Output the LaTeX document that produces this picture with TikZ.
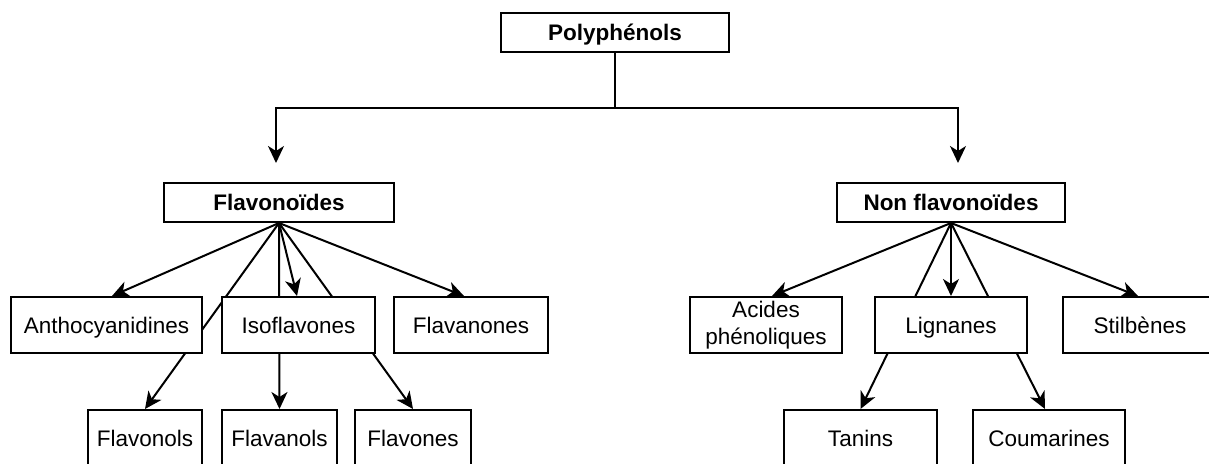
\documentclass[tikz,border=0pt]{standalone}
\usepackage{fontspec}
\setmainfont{Liberation Sans}
\usetikzlibrary{arrows.meta,backgrounds}
\begin{document}
\begin{tikzpicture}[x=1pt,y=-1pt,
  box/.style={draw=black,line width=2pt,fill=white,inner sep=0pt,
    minimum height=56pt,align=center,font=\fontsize{22.5}{27}\selectfont},
  onel/.style={box,text height=19pt,text depth=3pt},
  topbox/.style={onel,minimum height=39pt,font=\fontsize{22.5}{27}\selectfont\bfseries},
  conn/.style={draw=black,line width=2pt},
  arr/.style={conn,-{Stealth[length=17pt,width=16pt,inset=5pt]}}]
\useasboundingbox (0,0) rectangle (1209,463);
\clip (0,0) rectangle (1209,463);
% nodes
\node[topbox,minimum width=228pt] (poly) at (615,32.5) {Polyphénols};
\node[topbox,minimum width=230pt] (flav) at (279,202.5) {Flavonoïdes};
\node[topbox,minimum width=228pt] (nonf) at (951,202.5) {Non flavonoïdes};
\node[onel,minimum width=191pt] (antho) at (106.5,325) {Anthocyanidines};
\node[onel,minimum width=153pt] (iso) at (298.5,325) {Isoflavones};
\node[onel,minimum width=154pt] (flavan) at (471,325) {Flavanones};
\node[box,minimum width=152pt] (acides) at (766,325) {Acides\\[-0.5pt]phénoliques};
\node[onel,minimum width=152pt] (lign) at (951,325) {Lignanes};
\node[onel,minimum width=154pt] (stil) at (1140,325) {Stilbènes};
\node[onel,minimum width=114pt] (fols) at (145,438) {Flavonols};
\node[onel,minimum width=115pt] (fanols) at (279.5,438) {Flavanols};
\node[onel,minimum width=116pt] (fones) at (413,438) {Flavones};
\node[onel,minimum width=153pt] (tan) at (860.5,438) {Tanins};
\node[onel,minimum width=152pt] (coum) at (1049,438) {Coumarines};
\coordinate (split) at (615,108);
\coordinate (lend) at (276,163);
\coordinate (rend) at (958,163);
% connectors behind the boxes
\begin{scope}[on background layer]
\draw[conn] (poly.south) -- (split);
\draw[arr] (split) -| (lend);
\draw[arr] (split) -| (rend);
\draw[arr] (flav.south) -- ([xshift=5.5pt]antho.north);
\draw[arr] (flav.south) -- (fols.north);
\draw[arr] (flav.south) -- (fanols.north);
\draw[arr] (flav.south) -- ([xshift=-1.5pt]iso.north);
\draw[arr] (flav.south) -- (fones.north);
\draw[arr] (flav.south) -- ([xshift=-7pt]flavan.north);
\draw[arr] (nonf.south) -- ([xshift=6pt]acides.north);
\draw[arr] (nonf.south) -- (tan.north);
\draw[arr] (nonf.south) -- (lign.north);
\draw[arr] (nonf.south) -- ([xshift=-4pt]coum.north);
\draw[arr] (nonf.south) -- ([xshift=-2pt]stil.north);
\end{scope}
\end{tikzpicture}
\end{document}
